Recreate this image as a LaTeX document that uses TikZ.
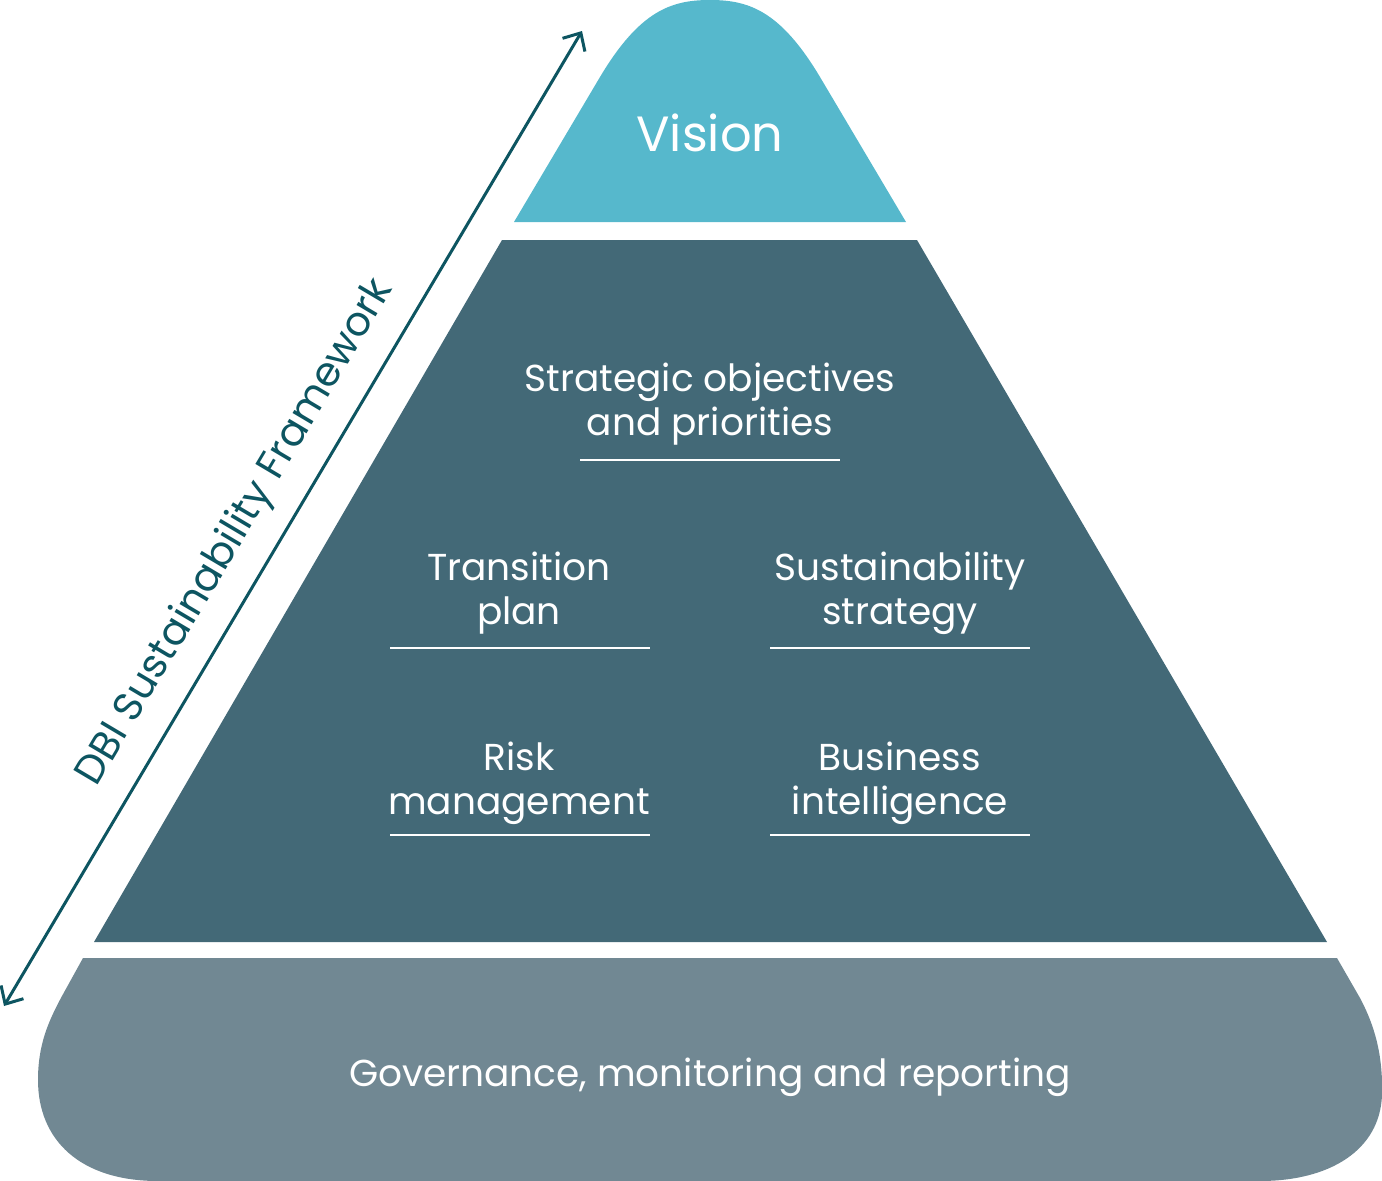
\documentclass[tikz,border=0pt]{standalone}
\usepackage{fontspec}
\setmainfont{Poppins}
\usetikzlibrary{arrows.meta}
\definecolor{visioncol}{HTML}{56B8CC}
\definecolor{midcol}{HTML}{436977}
\definecolor{basecol}{HTML}{718893}
\definecolor{arrowcol}{HTML}{0D5561}
\tikzset{
  lbl/.style={text=white, align=center, font=\fontsize{37.5}{44}\selectfont},
  uline/.style={draw=white, line width=1.5pt},
}
\begin{document}
\begin{tikzpicture}[x=1pt,y=-1pt]
\useasboundingbox (0,0) rectangle (1382,1181);
% Vision
\fill[visioncol] (514,222) -- (600,77) .. controls (640,10) and (672,0) .. (710,0)
  .. controls (748,0) and (780,10) .. (820,77) -- (906,222) -- cycle;
% middle trapezoid
\fill[midcol] (502,240) -- (917,240) -- (1327,942) -- (94,942) -- cycle;
% base
\fill[basecol] (83,958) -- (1337,958) -- (1360,998)
  .. controls (1376,1028) and (1383,1058) .. (1382,1095)
  .. controls (1380,1150) and (1330,1181) .. (1260,1181)
  -- (158,1181)
  .. controls (80,1181) and (38,1140) .. (38,1080)
  .. controls (38,1045) and (48,1022) .. (62,996) -- cycle;
% texts
\node[lbl, font=\fontsize{49.5}{56}\selectfont] (vision) at (710,133) {Vision};
\node[lbl] (strat) at (710,404) {Strategic objectives\\and priorities};
\node[lbl] (trans) at (519,593) {Transition\\plan};
\node[lbl] (sust) at (900,593) {Sustainability\\strategy};
\node[lbl] (risk) at (519,783) {Risk\\management};
\node[lbl] (bus) at (900,783) {Business\\intelligence};
\node[lbl] (gov) at (710,1077) {Governance, monitoring and reporting};
% underlines
\draw[uline] (580,460) -- (840,460);
\draw[uline] (390,648) -- (650,648);
\draw[uline] (770,648) -- (1030,648);
\draw[uline] (390,835) -- (650,835);
\draw[uline] (770,835) -- (1030,835);
% arrow
\coordinate (atop) at (582,31);
\coordinate (abot) at (4,1006);
\draw[arrowcol, line width=3pt, {Straight Barb[length=14pt,width=26pt]}-{Straight Barb[length=14pt,width=26pt]}] (abot) -- (atop);
\node[text=arrowcol, rotate=59.3, font=\fontsize{40.5}{44}\selectfont] (dbi) at (236,533) {DBI Sustainability Framework};
\end{tikzpicture}
\end{document}
